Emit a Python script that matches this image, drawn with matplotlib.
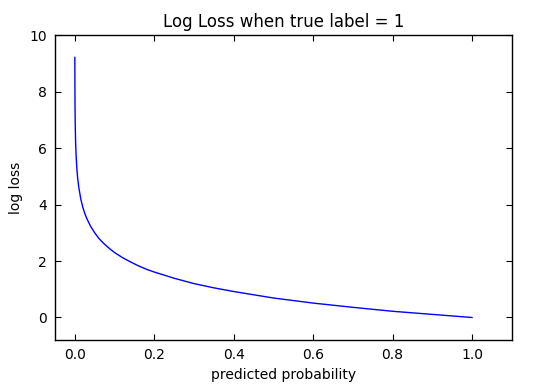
import matplotlib
matplotlib.use("Agg")
import matplotlib.pyplot as plt

# predicted probability vs. log loss
prob = [0.0001, 0.0002, 0.0005, 0.001, 0.002, 0.003, 0.005, 0.007, 0.01, 0.015,
        0.02, 0.025, 0.03, 0.04, 0.05, 0.06, 0.07, 0.08, 0.09, 0.1, 0.12, 0.14,
        0.16, 0.18, 0.2, 0.25, 0.3, 0.35, 0.4, 0.5, 0.6, 0.7, 0.8, 0.9, 1.0]
loss = [9.21, 8.52, 7.6, 6.91, 6.21, 5.81, 5.3, 4.96, 4.61, 4.2,
        3.91, 3.69, 3.51, 3.22, 3.0, 2.81, 2.66, 2.53, 2.41, 2.3, 2.12, 1.97,
        1.83, 1.71, 1.61, 1.39, 1.2, 1.05, 0.92, 0.69, 0.51, 0.36, 0.22, 0.11, 0.0]

fig = plt.figure(figsize=(5.55, 3.9), dpi=100)
ax = fig.add_axes([0.099, 0.128, 0.823, 0.782])
ax.plot(prob, loss, color='blue', linewidth=1.0)

ax.set_xlim(-0.05, 1.1)
ax.set_ylim(-0.8, 10)
ax.set_xticks([0.0, 0.2, 0.4, 0.6, 0.8, 1.0])
ax.set_yticks([0, 2, 4, 6, 8, 10])
ax.tick_params(direction='in', top=True, right=True, labelsize=10, length=4, pad=6)
for s in ax.spines.values():
    s.set_linewidth(1.0)

ax.set_title("Log Loss when true label = 1", fontsize=12)
ax.set_xlabel("predicted probability", fontsize=10)
ax.set_ylabel("log loss", fontsize=10)

fig.savefig("out.png", dpi=100, facecolor='white')
